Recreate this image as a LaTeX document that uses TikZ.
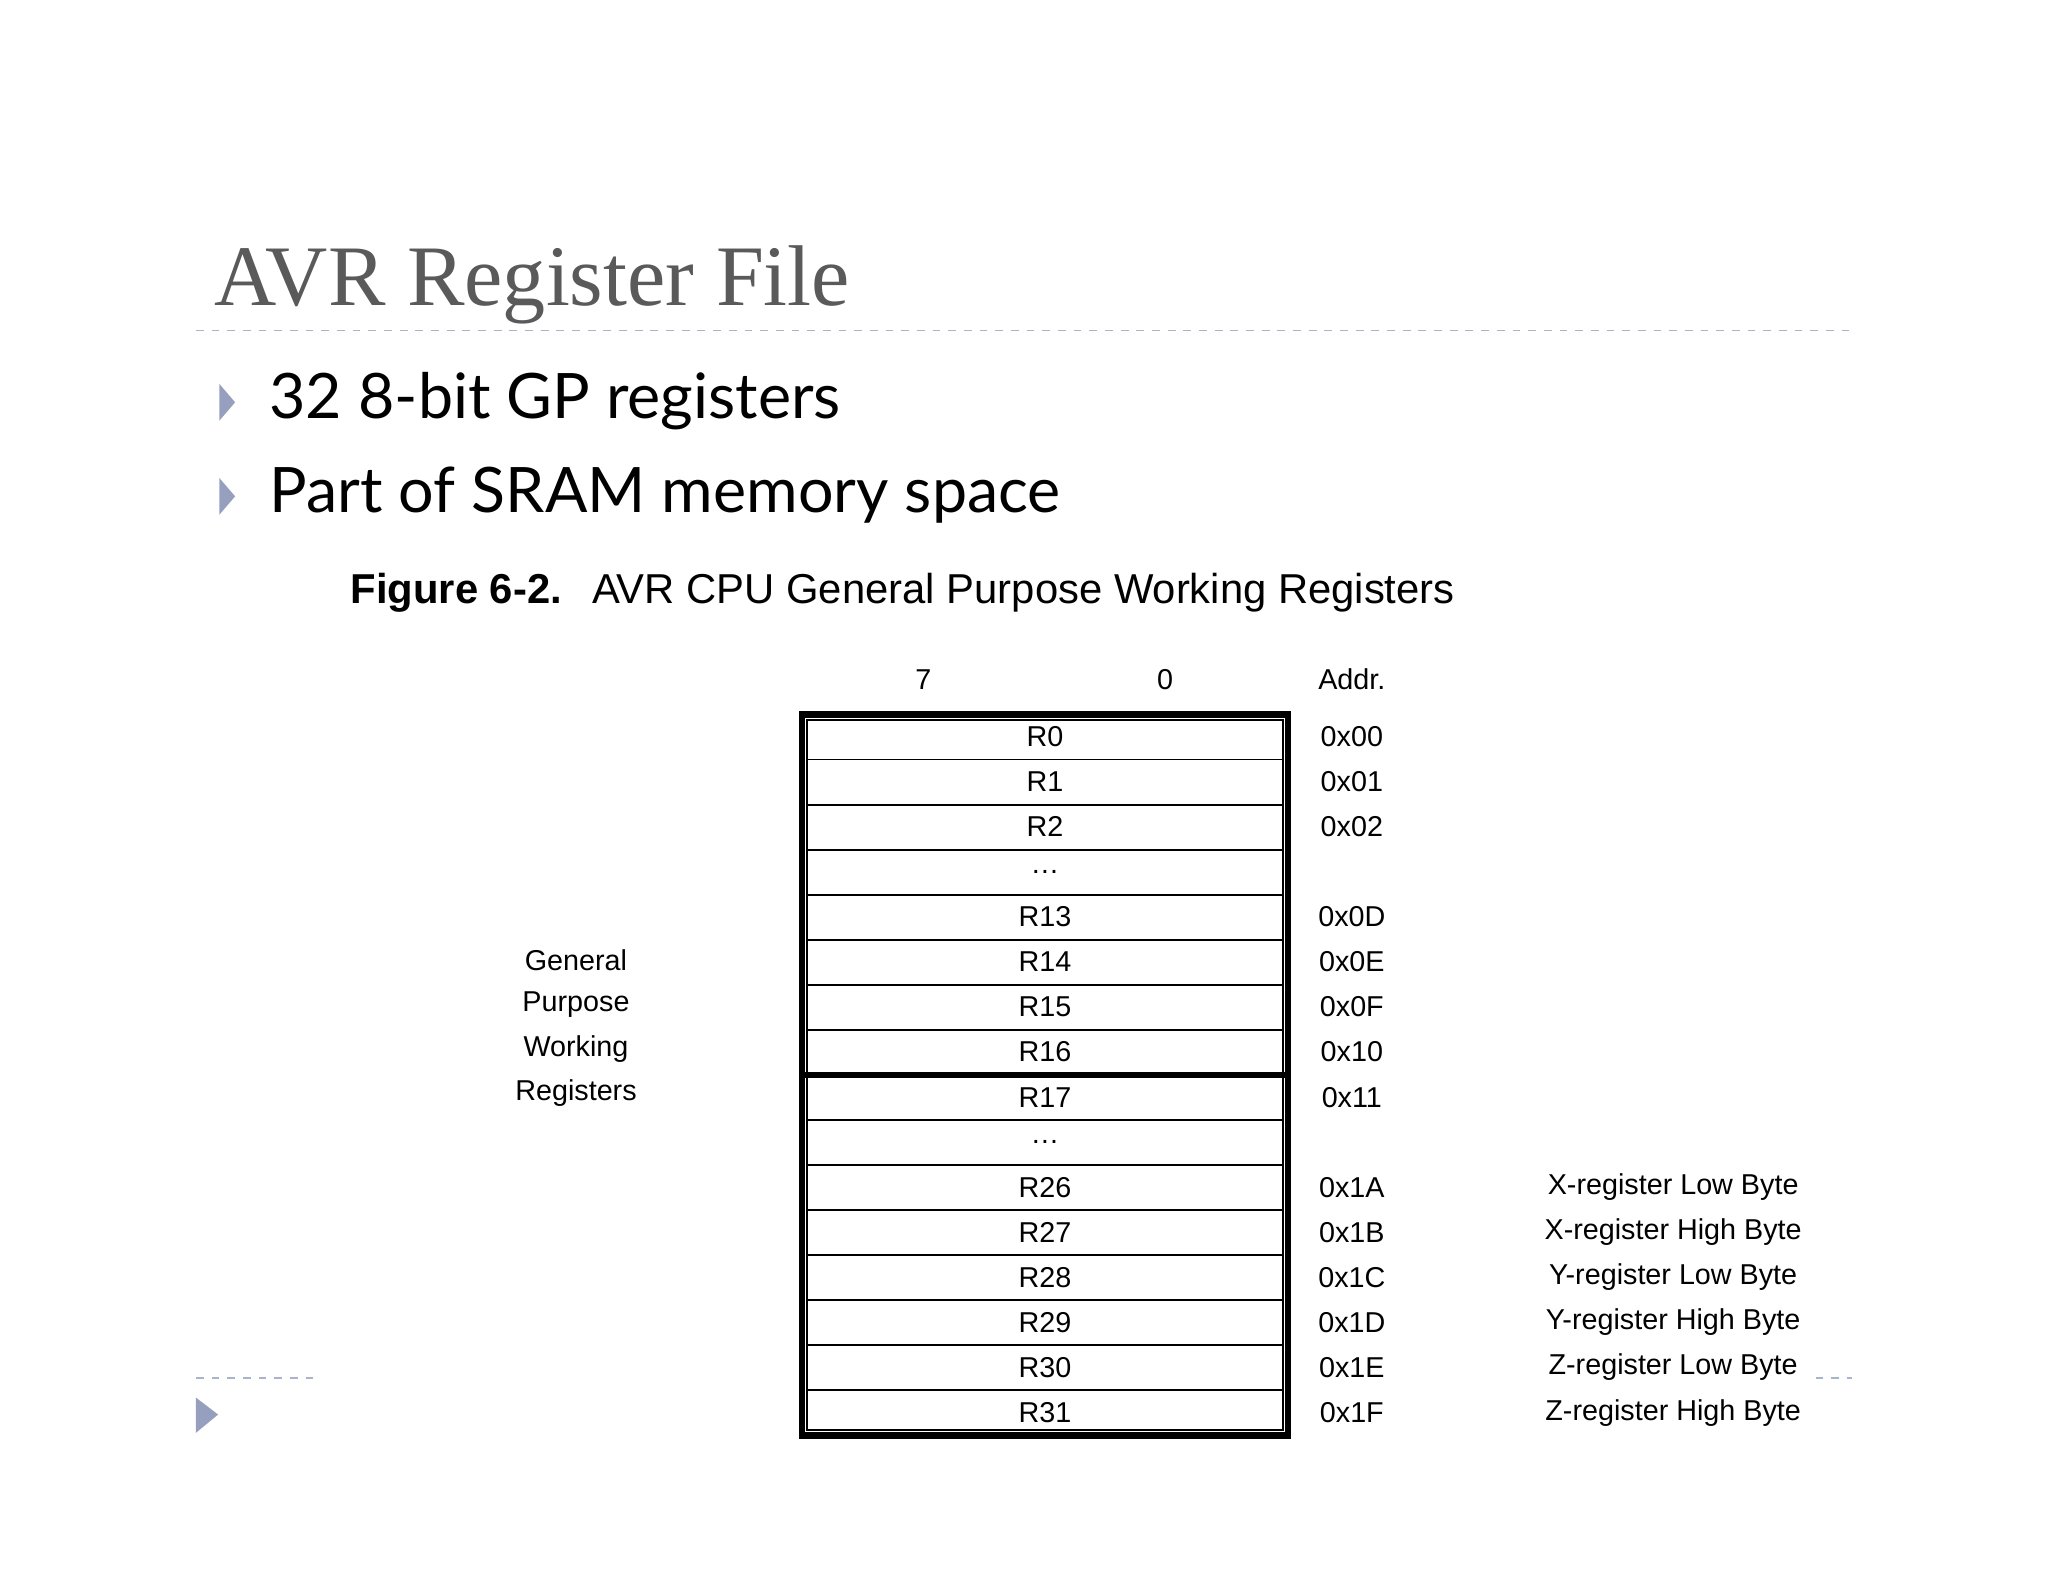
\documentclass[tikz,border=0pt]{standalone}
\usepackage{fontspec}
\setmainfont{Liberation Sans}
\newfontfamily\titlefont{Liberation Serif}
\newfontfamily\bulletfont{Lato}
\usetikzlibrary{positioning}
\definecolor{slidegray}{RGB}{90,90,90}
\definecolor{dashblue}{RGB}{170,180,200}
\definecolor{tipblue}{RGB}{150,160,190}
\tikzset{
  regcell/.style={font=\fontsize{11}{12}\selectfont, inner sep=0pt},
  addrlbl/.style={font=\fontsize{11}{12}\selectfont, inner sep=0pt},
  sidelbl/.style={font=\fontsize{11}{12}\selectfont, inner sep=0pt},
  bullettxt/.style={font=\bulletfont\fontsize{24}{28}\selectfont, anchor=west, inner sep=0pt},
  tip/.style={fill=tipblue, draw=none}
}
\begin{document}
\begin{tikzpicture}[x=0.5pt, y=-0.5pt]
    \useasboundingbox (0,0) rectangle (1568,1211);
    % Title and rule
    \node[font=\titlefont\fontsize{33}{36}\selectfont, text=slidegray, anchor=base west, inner sep=0pt] (title) at (164,234) {AVR Register File};
    \draw[dashblue, dashed, line width=0.6pt] (150,253) -- (1418,253);
    % Bullets
    \fill[tip] (168,294) -- (180,308) -- (168,322) -- cycle;
    \node[bullettxt] (b1) at (206,307) {32 8-bit GP registers};
    \fill[tip] (168,366) -- (180,380) -- (168,394) -- cycle;
    \node[bullettxt] (b2) at (206,379) {Part of SRAM memory space};
    % Caption
    \node[font=\fontsize{16}{18}\selectfont\bfseries, anchor=base west, inner sep=0pt] (figno) at (268,462) {Figure 6-2.};
    \node[font=\fontsize{16}{18}\selectfont, anchor=base west, inner sep=0pt] (figcap) at (453,462) {AVR CPU General Purpose Working Registers};
    % Column headers
    \node[addrlbl] (bit7) at (707,520) {7};
    \node[addrlbl] (bit0) at (892,520) {0};
    \node[addrlbl] (addr) at (1035,520) {Addr.};
    % Register rows
    \foreach \r/\a [count=\i from 0] in {R0/0x00, R1/0x01, R2/0x02, \ldots/{}, R13/0x0D, R14/0x0E, R15/0x0F, R16/0x10, R17/0x11, \ldots/{}, R26/0x1A, R27/0x1B, R28/0x1C, R29/0x1D, R30/0x1E, R31/0x1F} {
        \node[regcell] (reg\i) at (800,{564+34.5*\i}) {\r};
        \node[addrlbl] (adr\i) at (1035,{564+34.5*\i}) {\a};
        \ifnum\i>0
            \draw[line width=0.7pt] (618,{547+34.5*\i}) -- (982,{547+34.5*\i});
        \fi
    }
    \draw[line width=2.4pt] (614,547) rectangle (986,1099);
    \draw[line width=0.7pt] (618,551) rectangle (982,1095);
    \draw[line width=2.4pt] (614,823) -- (986,823);
    % Pointer register notes
    \foreach \t [count=\j from 10] in {X-register Low Byte, X-register High Byte, Y-register Low Byte, Y-register High Byte, Z-register Low Byte, Z-register High Byte}
        \node[sidelbl] (note\j) at (1281,{564+34.5*\j}) {\t};
    % Left label
    \foreach \t [count=\k from 0] in {General, Purpose, Working, Registers}
        \node[sidelbl] (gp\k) at (441,{735+34*\k}) {\t};
    % Footer
    \draw[dashblue, dashed, line width=0.6pt] (150,1055) -- (240,1055);
    \draw[dashblue, dashed, line width=0.6pt] (1390,1055) -- (1418,1055);
    \fill[tip] (150,1070) -- (167,1083) -- (150,1097) -- cycle;
\end{tikzpicture}
\end{document}
